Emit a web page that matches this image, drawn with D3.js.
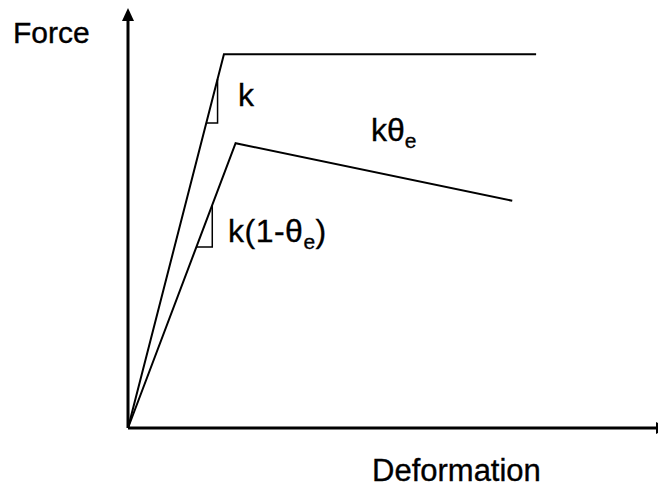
<!DOCTYPE html>
<html>
<head>
<meta charset="utf-8">
<script src="https://cdn.jsdelivr.net/npm/d3@7"></script>
<style>
  html, body { margin: 0; padding: 0; background: #fff; }
  svg { display: block; }
  text { font-family: "Liberation Sans", Arial, Helvetica, sans-serif; fill: #000; stroke: #000; stroke-width: 0.35; }
</style>
</head>
<body>
<svg id="chart" width="658" height="487"></svg>
<script>
// Bilinear force–deformation backbones (schematic units, 0–100 on each axis)
const elasticPlastic = [[0, 0], [18.1, 89.0], [77.0, 89.0]];     // stiffness k, then flat
const degrading      = [[0, 0], [20.3, 67.8], [72.5, 54.1]];     // stiffness k(1-θe), then negative slope kθe
// Slope triangles: the right-angle corner of each triangle under its line
const slopeMarks = [
  { line: elasticPlastic, corner: [16.9, 72.6] },
  { line: degrading,      corner: [15.9, 43.1] }
];
const axisTitles = { x: "Deformation", y: "Force" };

const svg = d3.select("#chart");

const x = d3.scaleLinear().domain([0, 100]).range([128, 658]);
const y = d3.scaleLinear().domain([0, 100]).range([428, 8]);

// Axes with arrowheads
const axisG = svg.append("g");
axisG.append("line")
  .attr("x1", x(0)).attr("y1", y(0))
  .attr("x2", x(0)).attr("y2", y(100) + 10)
  .attr("stroke", "#000").attr("stroke-width", 3);
axisG.append("path")
  .attr("d", `M${x(0)},${y(100)} L${x(0) - 6},${y(100) + 13} L${x(0) + 6},${y(100) + 13} Z`)
  .attr("fill", "#000");
axisG.append("line")
  .attr("x1", x(0)).attr("y1", y(0))
  .attr("x2", x(100)).attr("y2", y(0))
  .attr("stroke", "#000").attr("stroke-width", 3);
axisG.append("path")
  .attr("d", `M${x(100) - 2},${y(0) - 6} L${x(100) + 11},${y(0)} L${x(100) - 2},${y(0) + 6} Z`)
  .attr("fill", "#000");

// Backbone curves
const lineGen = d3.line().x(d => x(d[0])).y(d => y(d[1]));
svg.selectAll("path.curve")
  .data([elasticPlastic, degrading])
  .join("path")
  .attr("class", "curve")
  .attr("d", lineGen)
  .attr("fill", "none")
  .attr("stroke", "#000")
  .attr("stroke-width", 2)
  .attr("stroke-linejoin", "miter");

// Slope triangles: vertical leg up to the line, horizontal leg back to the line
slopeMarks.forEach(m => {
  const [p0, p1] = m.line;
  const slope = (p1[1] - p0[1]) / (p1[0] - p0[0]);
  const cx = m.corner[0], cy = m.corner[1];
  const topY = p0[1] + slope * (cx - p0[0]);
  const leftX = p0[0] + (cy - p0[1]) / slope;
  svg.append("path")
    .attr("d", `M${x(cx)},${y(topY)} L${x(cx)},${y(cy)} L${x(leftX)},${y(cy)}`)
    .attr("fill", "none")
    .attr("stroke", "#000")
    .attr("stroke-width", 1.5);
});

// Axis titles
svg.append("text").attr("x", 13).attr("y", 43)
  .attr("font-size", 30).text(axisTitles.y);
svg.append("text").attr("x", 372).attr("y", 481)
  .attr("font-size", 31).text(axisTitles.x);

// Stiffness labels
svg.append("text").attr("x", 238).attr("y", 106)
  .attr("font-size", 32).text("k");

const t2 = svg.append("text").attr("x", 371).attr("y", 141).attr("font-size", 32);
t2.append("tspan").text("kθ");
t2.append("tspan").attr("font-size", 21).attr("dy", 7).text("e");

const t3 = svg.append("text").attr("x", 228).attr("y", 242)
  .attr("font-size", 32).attr("letter-spacing", 0.5);
t3.append("tspan").text("k(1-θ");
t3.append("tspan").attr("font-size", 21).attr("dy", 7).text("e");
t3.append("tspan").attr("dy", -7).text(")");
</script>
</body>
</html>
